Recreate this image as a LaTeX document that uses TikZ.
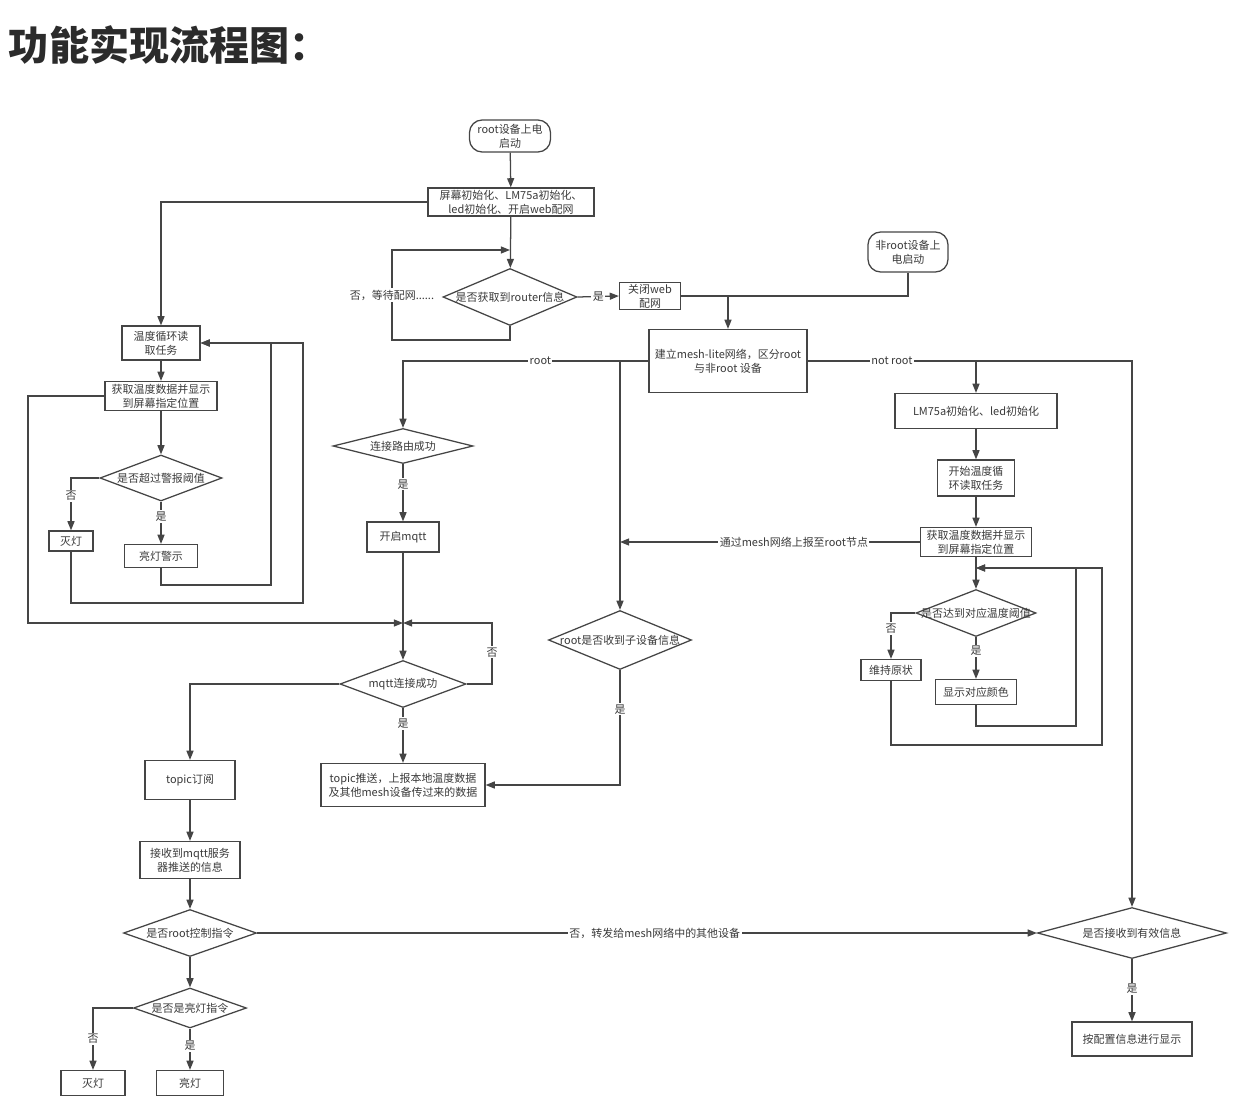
\documentclass[tikz,border=0pt]{standalone}
\usepackage{fontspec}
\setmainfont{Noto Sans CJK SC}
\usetikzlibrary{arrows.meta,shapes.geometric}
\definecolor{linegray}{HTML}{454545}
\definecolor{textgray}{HTML}{3A3A3A}
\definecolor{titlegray}{HTML}{2B2B2B}

\begin{document}
\begin{tikzpicture}[
    x=0.025cm, y=-0.025cm,
    font=\fontsize{7.8}{10}\selectfont,
    dims/.style 2 args={minimum width=#1*0.025cm, minimum height=#2*0.025cm},
    box/.style={
        draw=linegray,
        line width=0.9pt,
        align=center,
        inner sep=1pt,
        text=textgray
    },
    term/.style={box, rounded corners=9pt},
    dia/.style={draw=linegray, line width=0.9pt, diamond, inner sep=0pt},
    every label/.style={text=textgray, inner sep=0pt},
    lbl/.style={fill=white, inner sep=1pt, text=textgray},
    plain/.style={draw=linegray, line width=0.9pt},
    line/.style={-{Triangle[length=6.5pt,width=5pt]}, draw=linegray, line width=0.9pt}
]
\useasboundingbox (0,0) rectangle (1237,1117);

\node[anchor=west, font=\fontsize{28.5}{32}\selectfont\bfseries, text=titlegray] (title) at (4,45) {功能实现流程图：};

\node[term, dims={81}{32}] (rootstart) at (510,136) {root设备上电\\启动};
\node[box, dims={166}{28}] (initall) at (511,202) {屏幕初始化、LM75a初始化、\\led初始化、开启web配网};
\node[dia, dims={134}{57}, label=center:{是否获取到router信息}] (routerchk) at (510,297) {};
\node[box, dims={61}{25}] (closeweb) at (650,296) {关闭web\\配网};
\node[term, dims={80}{40}] (nonroot) at (908,252) {非root设备上\\电启动};
\node[box, dims={158}{63}] (meshnet) at (728,361) {建立mesh-lite网络，区分root\\与非root 设备};

\node[box, dims={78}{34}] (looproot) at (161,343) {温度循环读\\取任务};
\node[box, dims={112}{29}] (readroot) at (161,396) {获取温度数据并显示\\到屏幕指定位置};
\node[dia, dims={122}{46}, label=center:{是否超过警报阈值}] (alarmchk) at (161,478) {};
\node[box, dims={44}{20}] (ledoff) at (71,541) {灭灯};
\node[box, dims={73}{23}] (alarmled) at (161,556) {亮灯警示};

\node[dia, dims={140}{35}, label=center:{连接路由成功}] (linkok) at (403,446) {};
\node[box, dims={72}{30}] (mqttopen) at (403,537) {开启mqtt};
\node[dia, dims={126}{47}, label=center:{mqtt连接成功}] (mqttchk) at (403,684) {};
\node[box, dims={164}{43}] (pushdata) at (403,785) {topic推送，上报本地温度数据\\及其他mesh设备传过来的数据};
\node[dia, dims={143}{59}, label=center:{root是否收到子设备信息}] (childchk) at (620,640) {};

\node[box, dims={90}{39}] (subtopic) at (190,780) {topic订阅};
\node[box, dims={100}{37}] (recvmsg) at (190,860) {接收到mqtt服务\\器推送的信息};
\node[dia, dims={133}{47}, label=center:{是否root控制指令}] (ctrlchk) at (190,933) {};
\node[dia, dims={113}{40}, label=center:{是否是亮灯指令}] (lightchk) at (190,1008) {};
\node[box, dims={64}{25}] (cmdoff) at (93,1083) {灭灯};
\node[box, dims={67}{25}] (cmdon) at (190,1083) {亮灯};

\node[box, dims={162}{35}] (initnode) at (976,411) {LM75a初始化、led初始化};
\node[box, dims={77}{36}] (looptask) at (976,478) {开始温度循\\环读取任务};
\node[box, dims={111}{29}] (readnode) at (976,542) {获取温度数据并显示\\到屏幕指定位置};
\node[dia, dims={120}{47}, label=center:{是否达到对应温度阈值}] (reachchk) at (976,613) {};
\node[box, dims={60}{21}] (keepstate) at (891,670) {维持原状};
\node[box, dims={81}{25}] (showcolor) at (976,692) {显示对应颜色};
\node[dia, dims={189}{51}, label=center:{是否接收到有效信息}] (validchk) at (1132,933) {};
\node[box, dims={120}{34}] (showcfg) at (1132,1039) {按配置信息进行显示};

\coordinate (waitin) at (510,250);
\coordinate (meshin) at (728,296);
\coordinate (rootsplit) at (620,362);
\coordinate (nodesplit) at (976,362);
\coordinate (reachin) at (976,568);
\coordinate (mqttin) at (403,623);

\draw[line] (rootstart) -- (initall);
\draw[line] (initall) -- (routerchk);
\draw[line] (routerchk.south) -- (510,340) -- (392,340) -- node[lbl]{否，等待配网......} (392,250) -- (waitin);
\draw[line] (routerchk.east) -- node[lbl]{是} (closeweb.west);
\draw[plain] (nonroot.south) |- (closeweb.east);
\draw[line] (meshin) -- (meshnet.north);

\draw[line] (meshnet.west) -| node[lbl, pos=0.22]{root} (linkok.north);
\draw[line] (rootsplit) -- (childchk.north);
\draw[line] (meshnet.east) -| node[lbl, pos=0.13]{not root} (validchk.north);
\draw[line] (nodesplit) -- (initnode.north);

\draw[line] (initall.west) -| (looproot.north);
\draw[line] (looproot) -- (readroot);
\draw[line] (readroot) -- (alarmchk);
\draw[line] (alarmchk.west) -| node[lbl, pos=0.67]{否} (ledoff.north);
\draw[line] (alarmchk) -- node[lbl, pos=0.35]{是} (alarmled);
\draw[line] (alarmled.south) |- (271,585) |- (looproot.east);
\draw[line] (ledoff.south) |- (303,603) |- (looproot.east);
\draw[line] (readroot.west) -| (28,623) -- (mqttin);

\draw[line] (linkok) -- node[lbl, pos=0.35]{是} (mqttopen);
\draw[line] (mqttopen) -- (mqttchk);
\draw[line] (mqttchk.east) -| node[lbl, pos=0.76]{否} (492,623) -- (mqttin);
\draw[line] (mqttchk) -- node[lbl, pos=0.28]{是} (pushdata);
\draw[line] (mqttchk.west) -| (subtopic.north);
\draw[line] (childchk.south) |- node[lbl, pos=0.17]{是} (pushdata.east);

\draw[line] (subtopic) -- (recvmsg);
\draw[line] (recvmsg) -- (ctrlchk);
\draw[line] (ctrlchk.east) -- node[lbl, pos=0.51]{否，转发给mesh网络中的其他设备} (validchk.west);
\draw[line] (ctrlchk) -- (lightchk);
\draw[line] (lightchk.west) -| node[lbl, pos=0.75]{否} (cmdoff.north);
\draw[line] (lightchk) -- node[lbl, pos=0.42]{是} (cmdon);
\draw[line] (validchk) -- node[lbl, pos=0.48]{是} (showcfg);

\draw[line] (initnode) -- (looptask);
\draw[line] (looptask) -- (readnode);
\draw[line] (readnode.west) -- node[lbl, pos=0.42]{通过mesh网络上报至root节点} (readnode.west -| rootsplit);
\draw[line] (readnode) -- (reachchk);
\draw[line] (reachchk.west) -| node[lbl, pos=0.67]{否} (keepstate.north);
\draw[line] (reachchk) -- node[lbl, pos=0.33]{是} (showcolor);
\draw[line] (showcolor.south) |- (1076,726) |- (reachin);
\draw[line] (keepstate.south) |- (1102,745) |- (reachin);

\end{tikzpicture}
\end{document}
